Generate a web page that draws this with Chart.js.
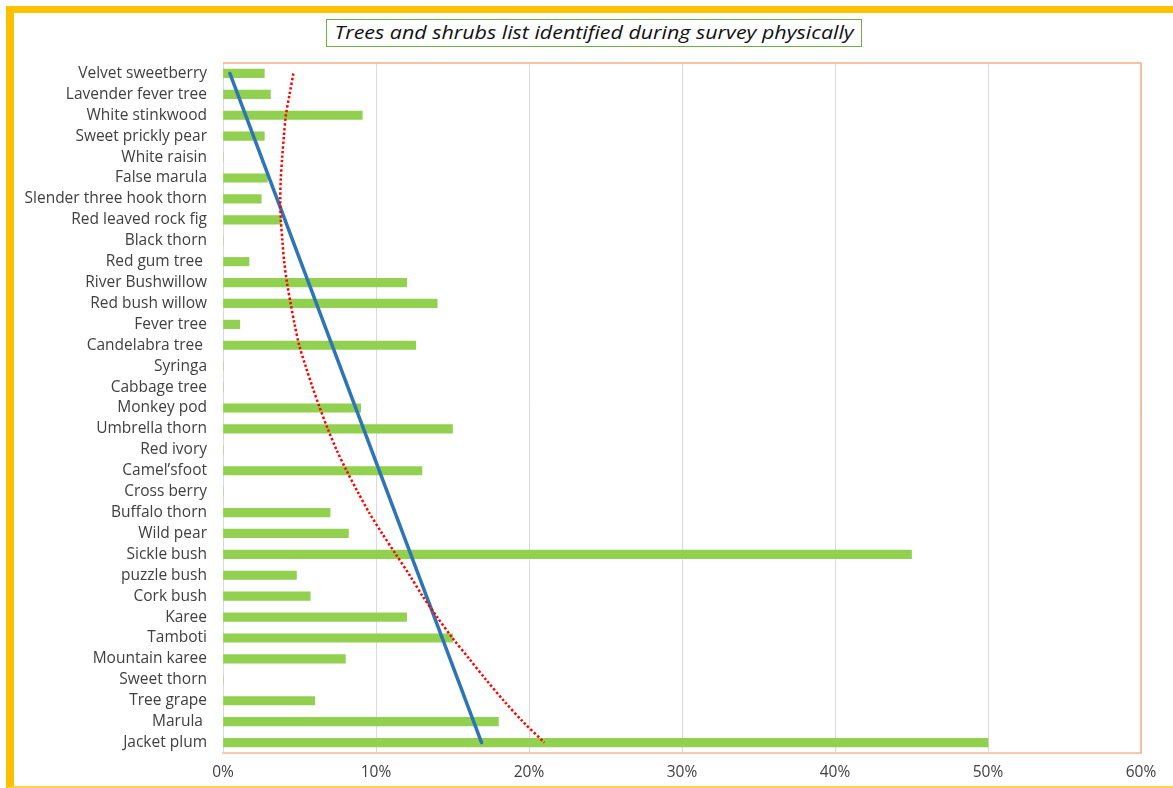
<!DOCTYPE html>
<html>
<head>
<meta charset="utf-8">
<script src="https://cdn.jsdelivr.net/npm/chart.js@4/dist/chart.umd.min.js"></script>
<style>
  html, body { margin: 0; padding: 0; background: #fff; }
  body { width: 1173px; height: 788px; position: relative; overflow: hidden; }
  .frame {
    position: absolute; left: 6px; top: 6px; width: 1167px; height: 782px;
    box-sizing: border-box;
    border-left: 8px solid #FFC000; border-top: 7px solid #FFC000;
    border-bottom: 2px solid #FFD24D;
  }
  #chart { position: absolute; left: 0; top: 0; }
  .title {
    position: absolute; left: 326px; top: 19px; width: 536px; height: 28px;
    box-sizing: border-box; border: 1.5px solid #70AD47; background: #fff;
    font-family: "Open Sans", sans-serif; font-style: italic; font-size: 18px;
    color: #111; text-align: center; line-height: 25px; white-space: nowrap;
  }
  .title span { display: inline-block; transform: scaleX(1.19); transform-origin: center; }
</style>
</head>
<body>
<div class="frame"></div>
<canvas id="chart" width="1173" height="788"></canvas>
<div class="title"><span>Trees and shrubs list identified during survey physically</span></div>
<script>
// Species, listed top to bottom as they appear on the chart
const species = [
  "Velvet sweetberry", "Lavender fever tree", "White stinkwood", "Sweet prickly pear",
  "White raisin", "False marula", "Slender three hook thorn", "Red leaved rock fig",
  "Black thorn", "Red gum tree ", "River Bushwillow", "Red bush willow", "Fever tree",
  "Candelabra tree ", "Syringa", "Cabbage tree", "Monkey pod", "Umbrella thorn",
  "Red ivory", "Camel\u2019sfoot", "Cross berry", "Buffalo thorn", "Wild pear",
  "Sickle bush", "puzzle bush", "Cork bush", "Karee", "Tamboti", "Mountain karee",
  "Sweet thorn", "Tree grape", "Marula ", "Jacket plum"
];

// Share of survey sites where each species was found (%)
const occurrence = [
  2.7, 3.1, 9.1, 2.7,
  0, 2.9, 2.5, 3.8,
  0, 1.7, 12, 14, 1.1,
  12.6, 0, 0, 9.0, 15,
  0, 13, 0, 7, 8.2,
  45, 4.8, 5.7, 12, 15, 8,
  0, 6, 18, 50
];

// Linear trend line end points (top species, bottom species)
const linearTrend = [
  { species: "Velvet sweetberry", value: 0.45 },
  { species: "Jacket plum", value: 16.9 }
];

// Polynomial trend, one value per species (%)
const polyTrend = [
  4.6, 4.35, 4.11, 3.98, 3.87, 3.78, 3.74, 3.78, 3.88, 4.0, 4.18,
  4.42, 4.68, 4.98, 5.4, 5.85, 6.33, 6.85, 7.42, 8.08, 8.8, 9.55,
  10.4, 11.3, 12.2, 13.05, 14.0, 15.0, 16.1, 17.2, 18.35, 19.6, 21.0
];

// Axis ticks (%)
const xTicks = [0, 10, 20, 30, 40, 50, 60];

const tickFont = { family: "'Open Sans', sans-serif", size: 15.5 };
const tickColor = "#404040";

// Orange outline on the top and right sides of the plot area
const plotFrame = {
  id: "plotFrame",
  afterDraw(chart) {
    const { ctx, chartArea: a } = chart;
    ctx.save();
    ctx.strokeStyle = "#F4B183";
    ctx.lineWidth = 1.5;
    ctx.beginPath();
    ctx.moveTo(a.left, a.top);
    ctx.lineTo(a.right, a.top);
    ctx.lineTo(a.right, a.bottom);
    ctx.stroke();
    ctx.restore();
  }
};

new Chart(document.getElementById("chart"), {
  type: "bar",
  data: {
    labels: species,
    datasets: [
      {
        type: "line",
        indexAxis: "y",
        data: polyTrend,
        borderColor: "#FF0000",
        borderWidth: 2.5,
        borderDash: [2.4, 2.2],
        pointRadius: 0,
        tension: 0.3,
        fill: false,
        order: 1
      },
      {
        type: "line",
        indexAxis: "y",
        data: linearTrend.map(p => ({ x: p.value, y: p.species })),
        borderColor: "#2E75B6",
        borderWidth: 3.5,
        borderCapStyle: "round",
        pointRadius: 0,
        fill: false,
        order: 2
      },
      {
        type: "bar",
        data: occurrence,
        backgroundColor: "#92D050",
        barThickness: 8.5,
        order: 3
      }
    ]
  },
  options: {
    indexAxis: "y",
    responsive: false,
    animation: false,
    devicePixelRatio: 1,
    layout: { padding: { left: 0, top: 63, right: 32, bottom: 0 } },
    plugins: {
      legend: { display: false },
      tooltip: { enabled: false },
      title: { display: false }
    },
    scales: {
      x: {
        type: "linear",
        min: xTicks[0],
        max: xTicks[xTicks.length - 1],
        afterBuildTicks(scale) { scale.ticks = xTicks.map(v => ({ value: v })); },
        ticks: {
          callback: v => v + "%",
          font: tickFont,
          color: tickColor,
          padding: 10,
          maxRotation: 0
        },
        grid: { color: "#D9D9D9", lineWidth: 1, drawTicks: false },
        border: { color: "#F8CBAD", width: 2 },
        afterFit(scale) { scale.height = 35; }
      },
      y: {
        type: "category",
        ticks: {
          font: tickFont,
          color: tickColor,
          padding: 16,
          autoSkip: false
        },
        grid: { display: false, drawTicks: false },
        border: { color: "#D9D9D9", width: 1 },
        afterFit(scale) { scale.width = 223; }
      }
    }
  },
  plugins: [plotFrame]
});
</script>
</body>
</html>
